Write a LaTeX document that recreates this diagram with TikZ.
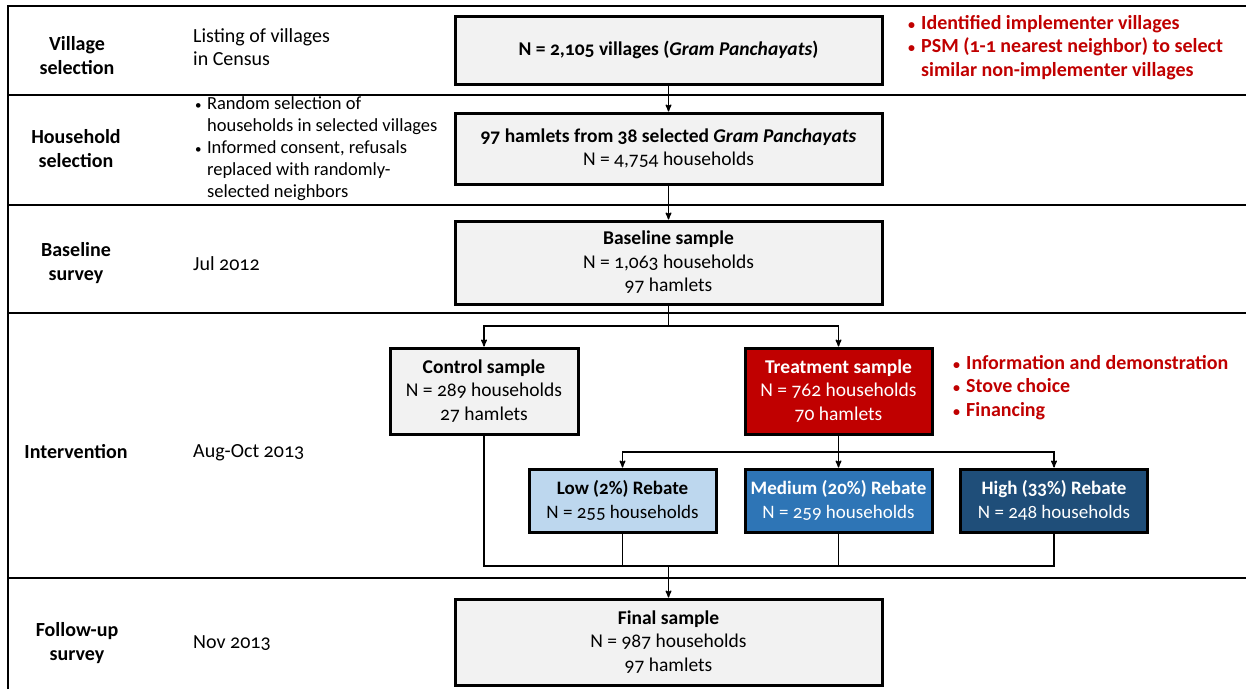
\documentclass[tikz,border=0pt]{standalone}
\usepackage{fontspec}
\setmainfont{Carlito}[Numbers=OldStyle]
\usetikzlibrary{arrows,positioning}

\definecolor{boxgray}{HTML}{F2F2F2}
\definecolor{treatred}{HTML}{C00000}
\definecolor{lowblue}{HTML}{BDD7EE}
\definecolor{medblue}{HTML}{2E75B6}
\definecolor{highblue}{HTML}{1F4E79}
\newcommand{\bul}{\makebox[0.75em][l]{\hspace{0.1em}\scalebox{0.7}{\textbullet}}}
\newcommand{\ind}{\hspace*{0.75em}}

\begin{document}
\begin{tikzpicture}[x=1pt,y=-1pt,>=stealth',
                    main node/.style={draw,line width=3pt,fill=boxgray,align=center,inner sep=0pt,
                                      minimum width=427pt,font=\fontsize{19.5}{23.5}\selectfont},
                    small node/.style={main node,minimum width=187pt},
                    stage/.style={align=center,font=\bfseries\fontsize{20}{24}\selectfont},
                    when/.style={align=left,anchor=west,inner sep=0pt,font=\fontsize{20}{23.5}\selectfont},
                    note/.style={align=left,anchor=north west,inner sep=0pt,text=treatred,
                                 font=\bfseries\fontsize{20}{23.5}\selectfont},
                    link/.style={line width=1.4pt},
                    arrow/.style={link,->}]

  \useasboundingbox (0,0) rectangle (1246,689);

  % row rules
  \draw[line width=1.5pt] (8,689) -- (8,6) -- (1246,6);
  \foreach \y in {95,205,313,578}
    \draw[line width=1.5pt] (8,\y) -- (1246,\y);

  % stages
  \node[stage] (s1) at (77,56)  {Village\\selection};
  \node[stage] (s2) at (76,149) {Household\\selection};
  \node[stage] (s3) at (76,263) {Baseline\\survey};
  \node[stage] (s4) at (76,452) {Intervention};
  \node[stage] (s5) at (77,643) {Follow-up\\survey};

  \node[when] (w1) at (193,47)  {Listing of villages\\in Census};
  \node[when,font=\fontsize{18.5}{22}\selectfont] (w2) at (193,149)
       {\bul Random selection of\\\ind households in selected villages\\
        \bul Informed consent, refusals\\\ind replaced with randomly-\\\ind selected neighbors};
  \node[when] (w3) at (193,264) {Jul 2012};
  \node[when] (w4) at (193,453) {Aug-Oct 2013};
  \node[when] (w5) at (193,643) {Nov 2013};

  % boxes
  \node[main node,minimum height=68pt] (village) at (668.5,50)
       {\textbf{N = 2,105 villages (\textit{Gram Panchayats})}};
  \node[main node,minimum height=71pt] (household) at (668.5,148.5)
       {\textbf{97 hamlets from 38 selected \textit{Gram Panchayats}}\\N = 4,754 households};
  \node[main node,minimum height=83pt] (baseline) at (668.5,262.5)
       {\textbf{Baseline sample}\\N = 1,063 households\\97 hamlets};
  \node[small node,minimum width=188pt,minimum height=86pt] (control) at (484,391)
       {\textbf{Control sample}\\N = 289 households\\27 hamlets};
  \node[small node,minimum height=86pt,fill=treatred,text=white] (treatment) at (838.5,391)
       {\textbf{Treatment sample}\\N = 762 households\\70 hamlets};
  \node[small node,minimum height=63pt,fill=lowblue,font=\fontsize{19}{23.5}\selectfont] (low) at (622.5,500.5)
       {\textbf{Low (2\%) Rebate}\\N = 255 households};
  \node[small node,minimum height=63pt,fill=medblue,text=white,font=\fontsize{19}{23.5}\selectfont] (medium) at (838.5,500.5)
       {\textbf{Medium (20\%) Rebate}\\N = 259 households};
  \node[small node,minimum height=63pt,fill=highblue,text=white,font=\fontsize{19}{23.5}\selectfont] (high) at (1054,500.5)
       {\textbf{High (33\%) Rebate}\\N = 248 households};
  \node[main node,minimum height=86pt] (final) at (668.5,642)
       {\textbf{Final sample}\\N = 987 households\\97 hamlets};

  % notes
  \node[note] (n1) at (906,15) {\bul Identified implementer villages\\
        \bul PSM (1-1 nearest neighbor) to select\\\ind similar non-implementer villages};
  \node[note] (n2) at (951,355) {\bul Information and demonstration\\\bul Stove choice\\\bul Financing};

  % connectors
  \coordinate (split1) at (668.5,326);
  \coordinate (split2) at (838.5,452);
  \coordinate (join)   at (668.5,566);
  \coordinate (joinR)  at (1054,566);

  \draw[arrow] (village) -- (household);
  \draw[arrow] (household) -- (baseline);
  \draw[link] (baseline) -- (split1);
  \draw[arrow] (split1) -| (control);
  \draw[arrow] (split1) -| (treatment);
  \draw[link] (treatment) -- (split2);
  \draw[arrow] (split2) -| (low);
  \draw[arrow] (split2) -- (medium);
  \draw[arrow] (split2) -| (high);
  \draw[link] (control) |- (joinR) -- (high);
  \draw[link] (low) -- (low |- join);
  \draw[link] (medium) -- (medium |- join);
  \draw[arrow] (join) -- (final);
\end{tikzpicture}
\end{document}
